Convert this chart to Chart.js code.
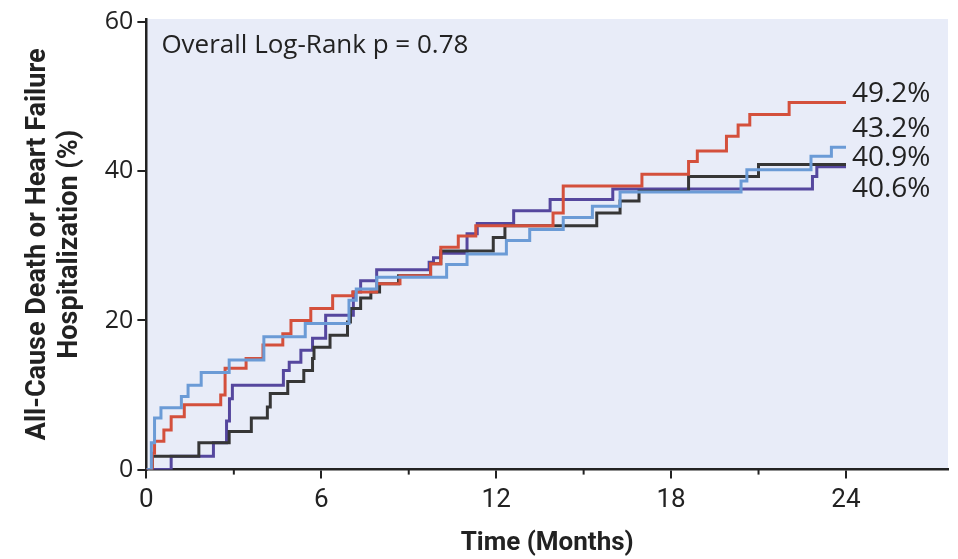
<!DOCTYPE html>
<html>
<head>
<meta charset="utf-8">
<script src="https://cdn.jsdelivr.net/npm/chart.js@4"></script>
<style>
  html, body { margin: 0; padding: 0; background: #fff; }
  #wrap { width: 958px; height: 559px; }
</style>
</head>
<body>
<div id="wrap"><canvas id="km"></canvas></div>
<script>
// step points: time in months, cumulative event rate in %
const redTime = [0, 0.2, 0.28, 0.6, 0.85, 1.3, 2.55, 2.7, 3.42, 4.0, 4.68, 4.96, 5.64, 6.39, 7.08, 7.9, 8.7, 9.75, 10.1, 10.7, 11.3, 13.95, 14.3, 17.0, 18.6, 18.9, 19.9, 20.3, 20.7, 22.05, 24];
const redPct  = [0, 2.2, 3.8, 5.3, 7.1, 8.7, 10.0, 13.6, 14.9, 16.7, 18.2, 20.0, 21.6, 23.3, 23.8, 24.9, 26.0, 27.6, 29.8, 31.3, 32.7, 34.4, 38.0, 39.6, 41.3, 42.7, 44.7, 46.2, 47.6, 49.2, 49.2];

const blueTime = [0, 0.17, 0.28, 0.5, 1.2, 1.43, 1.88, 2.84, 4.03, 5.45, 6.95, 7.2, 7.9, 10.3, 11.0, 12.35, 13.15, 14.3, 15.3, 16.25, 20.4, 20.6, 22.8, 23.5, 24];
const bluePct  = [0, 3.6, 6.9, 8.3, 9.8, 11.3, 13.0, 14.7, 17.8, 19.6, 22.7, 24.2, 25.8, 27.5, 28.9, 30.7, 32.2, 33.8, 35.3, 37.2, 38.7, 40.2, 42.0, 43.2, 43.2];

const blackTime = [0, 0.2, 1.8, 2.84, 3.6, 4.15, 4.25, 4.85, 5.4, 5.7, 5.75, 6.3, 6.9, 7.0, 7.35, 7.7, 8.0, 8.65, 9.75, 10.1, 11.9, 12.3, 15.45, 16.25, 16.9, 18.6, 21.0, 24];
const blackPct  = [0, 1.8, 3.6, 5.1, 6.9, 8.4, 10.2, 11.8, 13.3, 14.9, 16.4, 18.0, 19.8, 21.6, 23.0, 23.8, 24.9, 26.0, 27.6, 29.3, 31.1, 32.7, 34.4, 36.0, 37.3, 39.3, 40.9, 40.9];

const purpleTime = [0, 0.85, 2.3, 2.75, 2.85, 2.95, 4.7, 4.9, 5.3, 5.7, 6.15, 7.1, 7.35, 7.9, 9.7, 9.85, 10.1, 11.0, 11.35, 12.6, 13.85, 16.0, 22.85, 23.0, 24];
const purplePct  = [0, 1.8, 3.6, 6.5, 9.5, 11.3, 13.3, 14.4, 16.0, 17.6, 20.7, 23.8, 25.3, 26.8, 27.8, 28.4, 29.0, 31.6, 33.0, 34.7, 36.2, 37.6, 39.3, 40.6, 40.6];

const endLabels = ['49.2%', '43.2%', '40.9%', '40.6%'];
const endLabelY = [50.4, 45.6, 41.7, 37.6];

const xTicks = [0, 6, 12, 18, 24];
const xMinorTicks = [3, 9, 15, 21];
const yTicks = [0, 20, 40, 60];

const pValueText = 'Overall Log-Rank p = 0.78';

function toPoints(t, v) {
  return t.map((x, i) => ({ x: x, y: v[i] }));
}

function series(label, t, v, color) {
  return {
    label: label,
    data: toPoints(t, v),
    borderColor: color,
    borderWidth: 3,
    stepped: true,
    pointRadius: 0,
    fill: false
  };
}

const dataSets = [
  series('Blue', blueTime, bluePct, '#6b9bd6'),
  series('Red', redTime, redPct, '#d4503c'),
  series('Black', blackTime, blackPct, '#363636'),
  series('Purple', purpleTime, purplePct, '#55479e')
];

const plotExtras = {
  id: 'plotExtras',
  beforeDraw(chart) {
    const a = chart.chartArea;
    const ctx = chart.ctx;
    ctx.save();
    ctx.fillStyle = '#e8ecf8';
    ctx.fillRect(a.left, a.top, a.right - a.left, a.bottom - a.top);
    ctx.restore();
  },
  afterDraw(chart) {
    const a = chart.chartArea;
    const ctx = chart.ctx;
    const xs = chart.scales.x;
    const ys = chart.scales.y;
    ctx.save();
    // minor ticks
    ctx.strokeStyle = '#222';
    ctx.lineWidth = 2;
    xMinorTicks.forEach(v => {
      const px = xs.getPixelForValue(v);
      ctx.beginPath();
      ctx.moveTo(px, a.bottom);
      ctx.lineTo(px, a.bottom + 5);
      ctx.stroke();
    });
    // p value
    ctx.fillStyle = '#222';
    ctx.font = '26px "Open Sans"';
    ctx.textBaseline = 'middle';
    ctx.textAlign = 'left';
    ctx.fillText(pValueText, a.left + 15, a.top + 27);
    // end labels
    ctx.font = '28px "Open Sans"';
    const lx = xs.getPixelForValue(24) + 6;
    endLabels.forEach((txt, i) => {
      ctx.fillText(txt, lx, ys.getPixelForValue(endLabelY[i]));
    });
    ctx.restore();
  }
};

new Chart(document.getElementById('km'), {
  type: 'line',
  data: { datasets: dataSets },
  plugins: [plotExtras],
  options: {
    responsive: true,
    maintainAspectRatio: false,
    animation: false,
    layout: { padding: { top: 0, right: 10, left: 22, bottom: 0 } },
    plugins: {
      legend: { display: false },
      tooltip: { enabled: false }
    },
    scales: {
      x: {
        type: 'linear',
        min: 0,
        max: 27.5,
        afterBuildTicks: s => { s.ticks = xTicks.map(v => ({ value: v })); },
        grid: { drawOnChartArea: false, drawTicks: true, tickLength: 9, color: '#222', lineWidth: 2 },
        border: { display: true, color: '#222', width: 2.5 },
        ticks: { color: '#222', font: { family: 'Roboto', size: 26 }, padding: 6, maxRotation: 0 },
        title: {
          display: true,
          text: 'Time (Months)',
          color: '#222',
          font: { family: 'Roboto', size: 26, weight: 'bold' },
          padding: { top: 6, bottom: 0 }
        }
      },
      y: {
        min: 0,
        max: 60.4,
        afterBuildTicks: s => { s.ticks = yTicks.map(v => ({ value: v })); },
        grid: { drawOnChartArea: false, drawTicks: true, tickLength: 9, color: '#222', lineWidth: 2 },
        border: { display: true, color: '#222', width: 2.5 },
        ticks: { color: '#222', font: { family: 'Open Sans', size: 25 }, padding: 4 },
        title: {
          display: true,
          text: ['All-Cause Death or Heart Failure', 'Hospitalization (%)'],
          color: '#222',
          font: { family: 'Roboto', size: 27, weight: 'bold' },
          padding: { top: 0, bottom: 14 }
        }
      }
    }
  }
});
</script>
</body>
</html>
